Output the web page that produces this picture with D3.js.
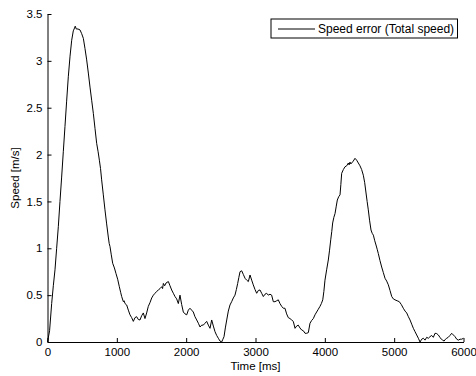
<!DOCTYPE html>
<html>
<head>
<meta charset="utf-8">
<script src="https://cdn.jsdelivr.net/npm/d3@7"></script>
<style>
    body { margin: 0; background: #fff; }
    svg { display: block; font-family: "Liberation Sans", Arial, sans-serif; }
</style>
</head>
<body>
<div id="speed-error-chart"></div>
<script>
// time stamps [ms] and speed error [m/s]
const timeMs = [
    0, 30, 60, 84, 108, 132, 156, 180, 204, 228, 252, 276, 300, 325, 349, 372, 390, 400, 415, 440,
    469, 493, 517, 541, 565, 589, 613, 637, 661, 685, 709, 730, 748, 765, 781, 805, 829, 853, 877, 890,
    901, 920, 940, 965, 988, 1012, 1036, 1055, 1070, 1094, 1105, 1118, 1142, 1166, 1190, 1214, 1238, 1262, 1286, 1310,
    1334, 1358, 1382, 1406, 1430, 1454, 1478, 1503, 1527, 1551, 1575, 1599, 1623, 1647, 1660, 1671, 1690, 1710, 1743, 1767,
    1791, 1815, 1839, 1863, 1887, 1911, 1935, 1959, 1983, 2008, 2031, 2055, 2079, 2103, 2127, 2152, 2176, 2200, 2224, 2247,
    2271, 2296, 2320, 2344, 2368, 2392, 2416, 2440, 2464, 2488, 2512, 2530, 2546, 2565, 2585, 2608, 2632, 2656, 2680, 2704,
    2724, 2743, 2760, 2777, 2801, 2825, 2849, 2873, 2897, 2921, 2945, 2968, 2993, 3017, 3041, 3065, 3089, 3113, 3137, 3161,
    3185, 3209, 3233, 3257, 3281, 3305, 3329, 3353, 3378, 3401, 3425, 3449, 3473, 3497, 3522, 3545, 3570, 3593, 3617, 3641,
    3666, 3690, 3714, 3738, 3762, 3786, 3810, 3834, 3858, 3882, 3906, 3930, 3950, 3970, 3986, 4002, 4026, 4050, 4068, 4085,
    4100, 4113, 4130, 4147, 4165, 4180, 4200, 4219, 4231, 4243, 4267, 4291, 4315, 4339, 4350, 4363, 4375, 4387, 4410, 4435,
    4459, 4483, 4507, 4531, 4555, 4575, 4594, 4610, 4627, 4645, 4666, 4683, 4700, 4720, 4738, 4755, 4771, 4795, 4820, 4844,
    4868, 4892, 4916, 4940, 4965, 4988, 5012, 5043, 5074, 5103, 5132, 5157, 5181, 5205, 5229, 5253, 5277, 5301, 5325, 5349,
    5373, 5397, 5421, 5445, 5469, 5493, 5517, 5541, 5565, 5589, 5613, 5637, 5660, 5680, 5700, 5720, 5740, 5758, 5780, 5805,
    5830, 5854, 5878, 5902, 5926, 5950, 5974, 6000
];
const speedError = [
    0, 0.12, 0.41, 0.6, 0.77, 1.0, 1.23, 1.5, 1.76, 2.03, 2.30, 2.57, 2.83, 3.05, 3.22, 3.32, 3.35, 3.37, 3.34, 3.34,
    3.33, 3.29, 3.24, 3.13, 3.01, 2.87, 2.72, 2.58, 2.44, 2.28, 2.12, 2.03, 1.94, 1.85, 1.73, 1.57, 1.41, 1.26, 1.12, 1.05,
    1.02, 0.93, 0.84, 0.79, 0.73, 0.67, 0.59, 0.53, 0.485, 0.43, 0.44, 0.41, 0.395, 0.34, 0.29, 0.26, 0.22, 0.26, 0.27, 0.24,
    0.235, 0.28, 0.31, 0.25, 0.31, 0.38, 0.42, 0.47, 0.50, 0.52, 0.54, 0.555, 0.57, 0.59, 0.57, 0.625, 0.6, 0.63, 0.645, 0.6,
    0.555, 0.52, 0.485, 0.46, 0.41, 0.50, 0.40, 0.32, 0.30, 0.29, 0.34, 0.36, 0.34, 0.32, 0.27, 0.235, 0.20, 0.16, 0.18, 0.18,
    0.20, 0.22, 0.18, 0.146, 0.235, 0.17, 0.11, 0.07, 0.04, 0.01, 0.0, 0.03, 0.057, 0.15, 0.235, 0.33, 0.395, 0.43, 0.47, 0.50,
    0.56, 0.625, 0.69, 0.75, 0.76, 0.72, 0.68, 0.66, 0.645, 0.715, 0.66, 0.61, 0.56, 0.52, 0.55, 0.555, 0.52, 0.485, 0.51, 0.52,
    0.50, 0.51, 0.50, 0.43, 0.43, 0.44, 0.45, 0.41, 0.38, 0.36, 0.36, 0.30, 0.26, 0.25, 0.235, 0.22, 0.146, 0.17, 0.18, 0.15,
    0.128, 0.12, 0.093, 0.093, 0.10, 0.20, 0.23, 0.25, 0.29, 0.32, 0.35, 0.38, 0.41, 0.45, 0.54, 0.66, 0.77, 0.875, 0.98, 1.09,
    1.18, 1.27, 1.33, 1.37, 1.45, 1.515, 1.55, 1.57, 1.68, 1.80, 1.84, 1.87, 1.88, 1.91, 1.89, 1.92, 1.90, 1.91, 1.93, 1.96,
    1.94, 1.91, 1.88, 1.84, 1.78, 1.70, 1.59, 1.50, 1.41, 1.30, 1.195, 1.16, 1.14, 1.08, 1.035, 0.99, 0.945, 0.87, 0.80, 0.74,
    0.68, 0.65, 0.61, 0.55, 0.485, 0.46, 0.45, 0.44, 0.43, 0.40, 0.36, 0.33, 0.31, 0.27, 0.235, 0.19, 0.146, 0.11, 0.075, 0.04,
    0.0, 0.03, 0.04, 0.02, 0.05, 0.04, 0.057, 0.07, 0.05, 0.093, 0.09, 0.075, 0.05, 0.03, 0.02, 0.01, 0.03, 0.04, 0.05, 0.07,
    0.093, 0.075, 0.057, 0.03, 0.02, 0.03, 0.03, 0.04
];
const xTicks = [0, 1000, 2000, 3000, 4000, 5000, 6000];
const yTicks = [0, 0.5, 1, 1.5, 2, 2.5, 3, 3.5];
const seriesName = "Speed error (Total speed)";

(function () {
    const containerWidth = 476;
    const containerHeight = 376;
    const margin = { top: 14, right: 12.5, bottom: 34, left: 47.5 };
    const width = containerWidth - margin.left - margin.right;
    const height = containerHeight - margin.top - margin.bottom;

    const svg = d3
        .select("#speed-error-chart")
        .append("svg")
        .attr("width", containerWidth)
        .attr("height", containerHeight)
        .append("g")
        .attr("transform", `translate(${margin.left},${margin.top})`);

    /* ----------------------- Scales ----------------------- */
    const x = d3.scaleLinear().domain([0, 6000]).range([0, width]);
    const y = d3.scaleLinear().domain([0, 3.5]).range([height, 0]);

    const data = timeMs.map((t, i) => ({ t: t, v: speedError[i] }));

    /* ----------------------- Axes (ticks point inward) ----------------------- */
    const xAxisGroup = svg
        .append("g")
        .attr("transform", `translate(0,${height})`)
        .call(d3.axisBottom(x).tickValues(xTicks).tickFormat((d) => d)
            .tickSizeInner(-4).tickSizeOuter(0).tickPadding(6));

    const yAxisGroup = svg
        .append("g")
        .call(d3.axisLeft(y).tickValues(yTicks).tickFormat((d) => d)
            .tickSizeInner(-4).tickSizeOuter(0).tickPadding(5));

    [xAxisGroup, yAxisGroup].forEach((g) => {
        g.attr("font-family", null).attr("font-size", null);
        g.selectAll("text").style("font-size", "11.5px").style("fill", "#000");
        g.selectAll("line, path").style("stroke", "#000");
    });

    // axis labels
    svg.append("text")
        .attr("x", width / 2)
        .attr("y", height + 28)
        .attr("text-anchor", "middle")
        .style("font-size", "11.5px")
        .text("Time [ms]");

    svg.append("text")
        .attr("transform", `translate(${19 - margin.left},${height / 2}) rotate(-90)`)
        .attr("text-anchor", "middle")
        .style("font-size", "11.5px")
        .text("Speed [m/s]");

    /* ----------------------- Line ----------------------- */
    const line = d3.line()
        .x((d) => x(d.t))
        .y((d) => y(d.v));

    svg.append("path")
        .datum(data)
        .attr("fill", "none")
        .attr("stroke", "#000")
        .attr("stroke-width", 1)
        .attr("d", line);

    /* ----------------------- Legend ----------------------- */
    const legend = svg.append("g")
        .attr("transform", `translate(${271 - margin.left},${19 - margin.top})`);

    legend.append("rect")
        .attr("width", 186.5)
        .attr("height", 19)
        .attr("fill", "#fff")
        .attr("stroke", "#000");

    legend.append("line")
        .attr("x1", 7).attr("x2", 44)
        .attr("y1", 10).attr("y2", 10)
        .attr("stroke", "#000");

    legend.append("text")
        .attr("x", 47)
        .attr("y", 14.3)
        .style("font-size", "12px")
        .text(seriesName);
})();
</script>
</body>
</html>
